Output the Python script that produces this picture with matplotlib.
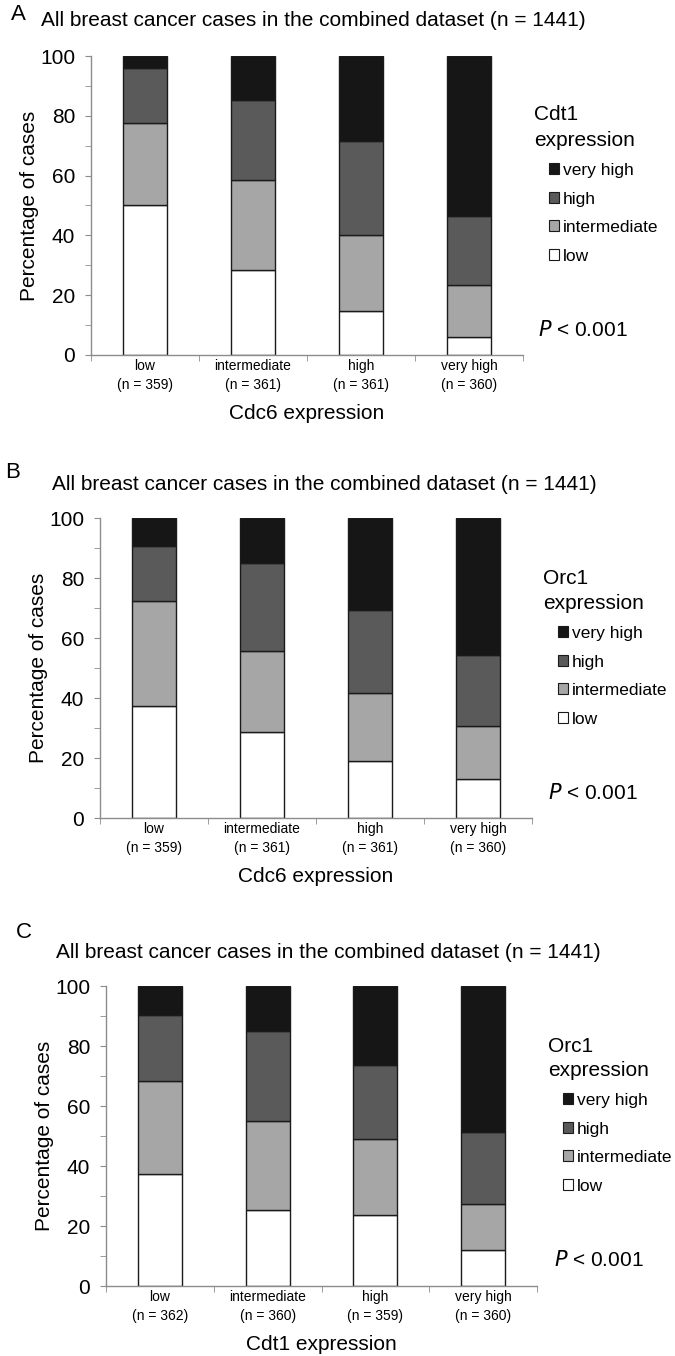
import matplotlib
matplotlib.use("Agg")
import matplotlib.pyplot as plt
from matplotlib.patches import Patch
import numpy as np

plt.rcParams['font.family'] = ['Liberation Sans', 'DejaVu Sans']

W, H = 675, 1356

categories = ['low', 'intermediate', 'high', 'very high']
levels = ['low', 'intermediate', 'high', 'very high']
colors = ['#ffffff', '#a6a6a6', '#5a5a5a', '#161616']

# panel A: Cdt1 expression within Cdc6 groups (percent per segment)
a_n = [359, 361, 361, 360]
a_low = [50.3, 28.3, 14.8, 6.0]
a_int = [27.2, 30.2, 25.5, 17.5]
a_high = [18.4, 26.8, 31.2, 22.9]
a_vhigh = [4.1, 14.7, 28.5, 53.6]

# panel B: Orc1 expression within Cdc6 groups
b_n = [359, 361, 361, 360]
b_low = [37.4, 28.7, 19.1, 12.9]
b_int = [35.1, 26.9, 22.6, 17.7]
b_high = [18.2, 29.3, 27.7, 23.7]
b_vhigh = [9.3, 15.1, 30.6, 45.7]

# panel C: Orc1 expression within Cdt1 groups
c_n = [362, 360, 359, 360]
c_low = [37.4, 25.3, 23.8, 12.1]
c_int = [30.9, 29.8, 25.3, 15.1]
c_high = [22.0, 29.9, 24.6, 24.0]
c_vhigh = [9.7, 15.0, 26.3, 48.8]

title = 'All breast cancer cases in the combined dataset (n = 1441)'

# layout in pixels of the 675x1356 picture
panels = [
    dict(letter='A', rect=(91, 56, 523, 355), segs=[a_low, a_int, a_high, a_vhigh], n=a_n,
         xlabel='Cdc6 expression', legtitle='Cdt1', letter_xy=(18, 15), title_xy=(41, 20),
         leg_x=534, leg_ys=(115, 140, 172), p_xy=(538, 330)),
    dict(letter='B', rect=(100, 518, 532, 818), segs=[b_low, b_int, b_high, b_vhigh], n=b_n,
         xlabel='Cdc6 expression', legtitle='Orc1', letter_xy=(13, 473), title_xy=(52, 484),
         leg_x=543, leg_ys=(578, 603, 635), p_xy=(548, 793)),
    dict(letter='C', rect=(106, 986, 537, 1286), segs=[c_low, c_int, c_high, c_vhigh], n=c_n,
         xlabel='Cdt1 expression', legtitle='Orc1', letter_xy=(24, 933), title_xy=(56, 952),
         leg_x=548, leg_ys=(1047, 1070, 1102), p_xy=(554, 1260)),
]

fig = plt.figure(figsize=(W / 100, H / 100), dpi=100)


def fx(px):
    return px / W


def fy(py):
    return 1 - py / H


spine_col = '#8c8c8c'

for p in panels:
    x0, y0, x1, y1 = p['rect']
    ax = fig.add_axes([fx(x0), fy(y1), fx(x1 - x0), (y1 - y0) / H])
    x = np.arange(len(categories))
    bottom = np.zeros(len(categories))
    handles = []
    for lev, vals, col in zip(levels, p['segs'], colors):
        ax.bar(x, vals, width=0.41, bottom=bottom, color=col, edgecolor='#1a1a1a', linewidth=1.0)
        bottom += np.array(vals)
        handles.append(Patch(facecolor=col, edgecolor='#1a1a1a', linewidth=0.8, label=lev))

    ax.set_xlim(-0.5, 3.5)
    ax.set_ylim(0, 100)
    for s in ['top', 'right']:
        ax.spines[s].set_visible(False)
    for s in ['left', 'bottom']:
        ax.spines[s].set_color(spine_col)
        ax.spines[s].set_linewidth(1.0)

    ax.set_yticks([0, 20, 40, 60, 80, 100])
    ax.set_yticks([10, 30, 50, 70, 90], minor=True)
    ax.tick_params(axis='y', which='both', length=4, color=spine_col, labelsize=15, pad=7.5)
    ax.set_xticks(x)
    ax.set_xticklabels([f'{c}\n(n = {n})' for c, n in zip(categories, p['n'])],
                       fontsize=10, linespacing=1.4)
    ax.set_xticks(np.arange(-0.5, 4, 1), minor=True)
    ax.tick_params(axis='x', which='major', length=0, pad=3)
    ax.tick_params(axis='x', which='minor', length=4.5, color=spine_col)
    ax.set_ylabel('Percentage of cases', fontsize=15, labelpad=1)
    ax.set_xlabel(p['xlabel'], fontsize=15, labelpad=9)

    lx = p['leg_x']
    t1, t2, r1 = p['leg_ys']
    fig.text(fx(lx), fy(t1), p['legtitle'], fontsize=15, va='center', ha='left')
    fig.text(fx(lx), fy(t2), 'expression', fontsize=15, va='center', ha='left')
    ax.legend(handles[::-1], levels[::-1], loc='upper left',
              bbox_to_anchor=(fx(lx + 15), fy(r1 - 9)), bbox_transform=fig.transFigure,
              frameon=False, fontsize=12.5, handlelength=0.6, handleheight=0.6,
              handletextpad=0.2, labelspacing=0.78, borderpad=0, borderaxespad=0)

    fig.text(fx(p['letter_xy'][0]), fy(p['letter_xy'][1]), p['letter'], fontsize=16,
             ha='center', va='center')
    fig.text(fx(p['title_xy'][0]), fy(p['title_xy'][1]), title, fontsize=15,
             ha='left', va='center')
    fig.text(fx(p['p_xy'][0]), fy(p['p_xy'][1]), '$P$ < 0.001', fontsize=15,
             ha='left', va='center')

fig.savefig('out.png', dpi=100)
